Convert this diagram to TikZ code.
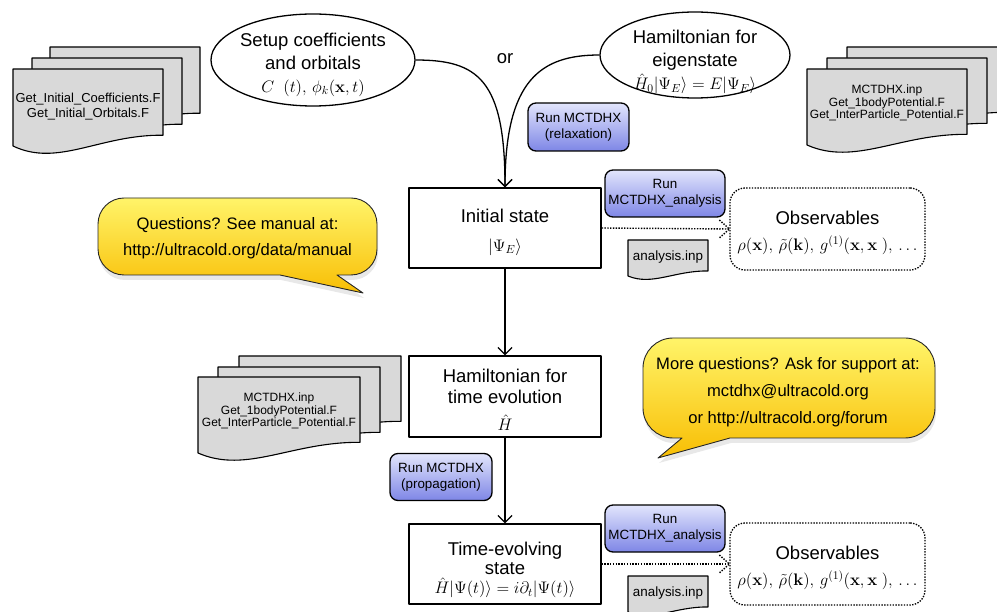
\RequirePackage{fix-cm}
\documentclass[tikz,border=0pt]{standalone}
\usepackage[no-math]{fontspec}
\setmainfont{Liberation Sans}
\usetikzlibrary{arrows.meta,shapes.geometric,shadows}
\definecolor{btntop}{RGB}{226,229,252}
\definecolor{btnbot}{RGB}{126,134,230}
\definecolor{bubtop}{RGB}{255,244,105}
\definecolor{bubbot}{RGB}{248,190,4}
\definecolor{docgray}{RGB}{217,217,217}
\newcommand{\mtext}{\fontsize{18.5}{23}\selectfont}
\newcommand{\mmath}{\fontsize{16.7}{20}\selectfont}
\newcommand{\strt}[1]{\rule{0pt}{#1pt}}
\newcommand{\docsheet}[4]{%
  \begin{scope}[shift={(#1,#2)},xscale=#3,yscale=#4]
    \draw[sheet] (0,0) -- (1,0) -- (1,0.86)
      .. controls (0.58,0.85) and (0.3,1.28) .. (0,1) -- cycle;
  \end{scope}}
\begin{document}
\begin{tikzpicture}[x=1pt,y=-1pt,line join=round,
  sheet/.style={draw,line width=1.1pt,fill=docgray},
  doctext/.style={inner sep=0pt,align=center,font=\fontsize{12}{12.2}\selectfont},
  bigell/.style={ellipse,draw,line width=1.3pt,fill=white,inner xsep=-6pt,inner ysep=-10pt,align=center,font=\mtext},
  mainbox/.style={rectangle,draw,line width=1.3pt,fill=white,minimum width=192pt,inner sep=0pt,align=center,font=\mtext},
  runbtn/.style={rectangle,draw,line width=1.3pt,rounded corners=8pt,top color=btntop,bottom color=btnbot,inner sep=0pt,align=center,font=\fontsize{13.4}{15.8}\selectfont},
  obsbox/.style={rectangle,draw,line width=1.3pt,dash pattern=on 1.4pt off 1.4pt,rounded corners=15pt,minimum width=195pt,minimum height=82pt,inner sep=0pt,align=center},
  bubble/.style={draw=black!85,line width=0.9pt,top color=bubtop,bottom color=bubbot,drop shadow={shadow xshift=1pt,shadow yshift=-5pt,opacity=0.18}},
  bubtext/.style={inner sep=0pt,align=center,font=\fontsize{16.6}{26}\selectfont},
  arr/.style={line width=1.3pt,-{Straight Barb[length=7pt,width=14pt]}},
  dotl/.style={line width=1.4pt,dash pattern=on 1.4pt off 1.4pt}
]
\useasboundingbox (0,0) rectangle (997,612);

% ---- document stacks ----
\docsheet{50}{47}{150}{77}
\docsheet{32}{58}{150}{77}
\docsheet{13}{69}{150}{77}
\node[doctext,font=\fontsize{13}{15}\selectfont] (docA) at (88,106.5) {Get\_Initial\_Coefficients.F\\Get\_Initial\_Orbitals.F};

\docsheet{847}{47}{160}{76}
\docsheet{827}{58}{160}{76}
\docsheet{807}{69}{160}{76}
\node[doctext] (docB) at (887,103) {MCTDHX.inp\\Get\_1bodyPotential.F\\Get\_InterParticle\_Potential.F};

\docsheet{239}{356}{162}{76}
\docsheet{218}{367}{162}{76}
\docsheet{198}{377}{162}{76}
\node[doctext,font=\fontsize{12}{12.6}\selectfont] (docC) at (279,411) {MCTDHX.inp\\Get\_1bodyPotential.F\\Get\_InterParticle\_Potential.F};

\docsheet{628}{240}{80}{36}
\node[doctext,font=\fontsize{13.4}{15}\selectfont] (anaA) at (668,257) {analysis.inp};
\docsheet{628}{576}{80}{36}
\node[doctext,font=\fontsize{13.4}{15}\selectfont] (anaB) at (668,593) {analysis.inp};

% ---- speech bubbles ----
\path[bubble] (124,198) -- (351,198) arc[start angle=90,end angle=0,radius=26pt]
  -- (377,249) arc[start angle=0,end angle=-90,radius=26pt]
  -- (337,275) -- (363,293) -- (280,275) -- (124,275)
  arc[start angle=-90,end angle=-180,radius=26pt]
  -- (98,224) arc[start angle=180,end angle=90,radius=26pt] -- cycle;
\node[bubtext] (bubA) at (237.5,238.5) {Questions? See manual at:\\http://ultracold.org/data/manual};

\path[bubble] (673,338) -- (905,338) arc[start angle=90,end angle=0,radius=30pt]
  -- (935,408) arc[start angle=0,end angle=-90,radius=30pt]
  -- (730,438) -- (658,458) -- (682,438) -- (673,438)
  arc[start angle=-90,end angle=-180,radius=30pt]
  -- (643,368) arc[start angle=180,end angle=90,radius=30pt] -- cycle;
\node[bubtext,font=\fontsize{16.6}{27}\selectfont] (bubB) at (788,392) {More questions? Ask for support at:\\mctdhx@ultracold.org\\or http://ultracold.org/forum};

% ---- ellipses ----
\node[bigell,minimum width=204pt,minimum height=92pt] (e1) at (313,60)
  {\strt{22.5}Setup coefficients\\and orbitals\\\mmath $C\;\;(t),\,\phi_k(\mathbf{x},t)$};
\node[bigell,minimum width=190pt,minimum height=86pt] (e2) at (695,55)
  {\strt{27.5}Hamiltonian for\\eigenstate\\\mmath $\hat H_0|\Psi_E\rangle = E|\Psi_E\rangle$};
\node[font=\mtext] (or) at (505,59) {or};

% ---- main boxes ----
\node[mainbox,minimum height=80pt] (init) at (505,228)
  {\strt{21.5}Initial state\\[6pt]\mmath $|\Psi_E\rangle$};
\node[mainbox,minimum height=81pt] (ham) at (505,396.5)
  {\strt{20.5}Hamiltonian for\\[-2pt]time evolution\\[4pt]\mmath $\hat H$};
\node[mainbox,minimum height=80pt] (tev) at (505,564)
  {\strt{25.5}Time-evolving\\[-4pt]state\\[-4pt]\mmath $\hat H|\Psi(t)\rangle = i\partial_t|\Psi(t)\rangle$};

% ---- run buttons ----
\node[runbtn,minimum width=101pt,minimum height=48pt] (relax) at (578.5,127) {Run MCTDHX\\(relaxation)};
\node[runbtn,minimum width=102pt,minimum height=47pt] (prop) at (441,477) {Run MCTDHX\\(propagation)};
\node[runbtn,minimum width=120pt,minimum height=47pt] (anarunA) at (665,193.5) {Run\\MCTDHX\_analysis};
\node[runbtn,minimum width=120pt,minimum height=47pt] (anarunB) at (665,528.5) {Run\\MCTDHX\_analysis};

% ---- observables ----
\node[obsbox] (obsA) at (827.5,229)
  {\mtext\strt{21.4}Observables\\[10pt]\mmath $\rho(\mathbf{x}),\,\tilde\rho(\mathbf{k}),\,g^{(1)}(\mathbf{x},\mathbf{x}\;),\,\ldots$};
\node[obsbox] (obsB) at (827.5,564)
  {\mtext\strt{21.4}Observables\\[10pt]\mmath $\rho(\mathbf{x}),\,\tilde\rho(\mathbf{k}),\,g^{(1)}(\mathbf{x},\mathbf{x}\;),\,\ldots$};

% ---- connectors ----
\draw[arr] (e1.east) .. controls +(62,0) and +(0,-108) .. (init.north);
\draw[arr] (e2.west) .. controls +(-58,0) and +(0,-108) .. (init.north);
\draw[arr] (init.south) -- (ham.north);
\draw[arr] (ham.south) -- (tev.north);
\draw[dotl] (init.east) -- (obsA.west);
\draw[dotl] (obsA.west) ++(-10,-9) -- (obsA.west) -- ++(-10,9);
\draw[dotl] (tev.east) -- (obsB.west);
\draw[dotl] (obsB.west) ++(-10,-9) -- (obsB.west) -- ++(-10,9);
\end{tikzpicture}
\end{document}
